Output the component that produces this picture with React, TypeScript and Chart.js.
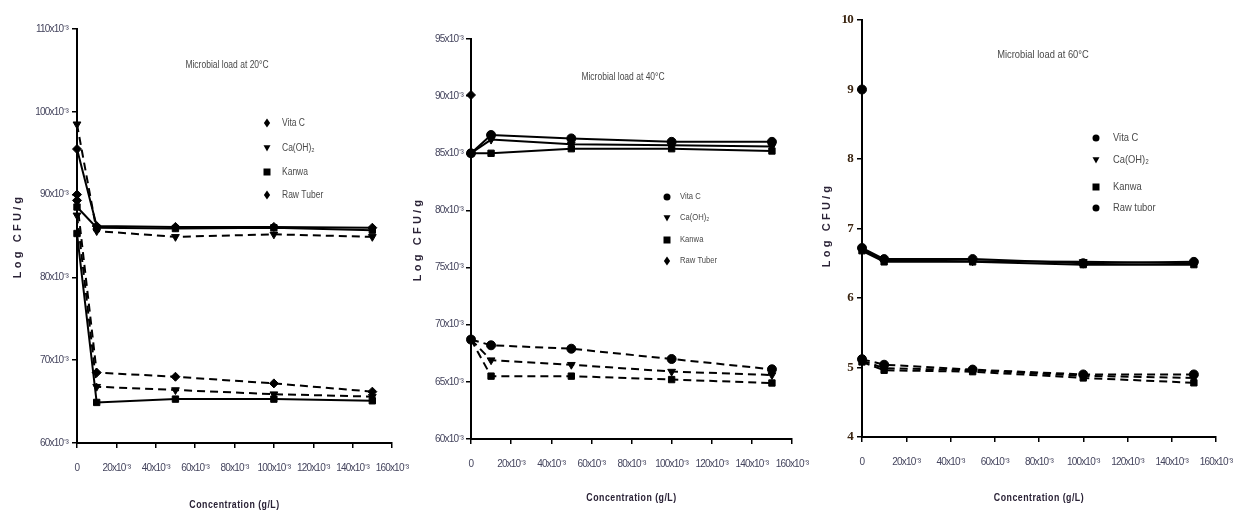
import React, { useEffect, useRef } from 'react';
import { Chart, registerables } from 'chart.js';

Chart.register(...registerables);

// ---------- data ----------
const concentrations = [0, 10, 50, 100, 150]; // x10^-3 g/L
const rawTuberX = [0];

const legendLabels = ['Vita C', 'Ca(OH)₂', 'Kanwa', 'Raw Tuber'];
const legendLabels60 = ['Vita C', 'Ca(OH)₂', 'Kanwa', 'Raw tubor'];

// 20 °C (values x10^-3)
const vitaC20Upper = [95.5, 86.2, 86.1, 86.1, 86.0];
const caOH20Upper = [98.5, 85.6, 84.9, 85.2, 84.9];
const kanwa20Upper = [88.5, 86.0, 85.9, 86.0, 85.7];
const vitaC20Lower = [89.3, 68.5, 68.0, 67.2, 66.2];
const caOH20Lower = [87.5, 66.8, 66.4, 65.9, 65.6];
const kanwa20Lower = [85.3, 64.9, 65.3, 65.3, 65.1];
const rawTuber20 = [90.0];

// 40 °C (values x10^-3)
const vitaC40Upper = [85.0, 86.6, 86.3, 86.0, 86.0];
const caOH40Upper = [85.0, 86.2, 85.8, 85.7, 85.6];
const kanwa40Upper = [85.0, 85.0, 85.4, 85.4, 85.2];
const vitaC40Lower = [68.7, 68.2, 67.9, 67.0, 66.1];
const caOH40Lower = [68.7, 66.9, 66.5, 65.9, 65.6];
const kanwa40Lower = [68.7, 65.5, 65.5, 65.2, 64.9];
const rawTuber40 = [90.1];

// 60 °C
const vitaC60Upper = [6.72, 6.56, 6.56, 6.5, 6.52];
const caOH60Upper = [6.7, 6.54, 6.53, 6.52, 6.5];
const kanwa60Upper = [6.68, 6.52, 6.52, 6.48, 6.48];
const vitaC60Lower = [5.12, 5.04, 4.97, 4.9, 4.9];
const caOH60Lower = [5.1, 4.99, 4.96, 4.88, 4.85];
const kanwa60Lower = [5.08, 4.96, 4.94, 4.85, 4.78];
const rawTuber60 = [9.0];

// ---------- styling ----------
const SANS = "'Liberation Sans', Arial, sans-serif";
const TICK_COLOR = '#45455e';
const AXIS_TITLE_COLOR = '#2a2236';
const TEXT_COLOR = '#4a4a4a';

type Marker = 'diamond' | 'triDown' | 'square' | 'circle';

const chartStyle = (m: Marker) =>
  m === 'diamond' ? 'rectRot' : m === 'triDown' ? 'triangle' : m === 'square' ? 'rect' : 'circle';

function drawMarker(ctx: CanvasRenderingContext2D, m: Marker, x: number, y: number, r: number) {
  ctx.beginPath();
  if (m === 'diamond') {
    ctx.moveTo(x, y - r * 1.3);
    ctx.lineTo(x + r * 0.9, y);
    ctx.lineTo(x, y + r * 1.3);
    ctx.lineTo(x - r * 0.9, y);
    ctx.closePath();
  } else if (m === 'triDown') {
    ctx.moveTo(x - r, y - r * 0.8);
    ctx.lineTo(x + r, y - r * 0.8);
    ctx.lineTo(x, y + r);
    ctx.closePath();
  } else if (m === 'square') {
    ctx.rect(x - r, y - r, 2 * r, 2 * r);
  } else {
    ctx.arc(x, y, r, 0, Math.PI * 2);
  }
  ctx.fillStyle = '#000';
  ctx.fill();
}

// draw horizontally-condensed text (emulates a narrow face)
function drawNarrow(
  ctx: CanvasRenderingContext2D,
  text: string,
  x: number,
  y: number,
  font: string,
  color: string,
  align: CanvasTextAlign,
  sx: number,
  spacing: number,
  rotate = false
) {
  ctx.save();
  (ctx as any).letterSpacing = `${spacing}px`;
  ctx.font = font;
  ctx.fillStyle = color;
  ctx.textAlign = align;
  ctx.textBaseline = 'middle';
  ctx.translate(x, y);
  if (rotate) ctx.rotate(-Math.PI / 2);
  ctx.scale(sx, 1);
  ctx.fillText(text, 0, 0);
  ctx.restore();
}

type Series = { values: number[]; xs: number[]; marker: Marker; dashed: boolean; label: string };

type Panel = {
  left: number;
  width: number;
  area: { left: number; right: number; top: number; bottom: number };
  yMin: number;
  yMax: number;
  yStep: number;
  sci: boolean;
  title: string;
  titleFont: number;
  titlePos: [number, number];
  legend: { markerX: number; textX: number; ys: number[]; font: number; labels: string[]; markers: Marker[] };
  yTitlePos: [number, number];
  xTitleY: number;
  yTickPad: number;
  series: Series[];
};

const m20: Marker[] = ['diamond', 'triDown', 'square', 'diamond'];
const m40: Marker[] = ['circle', 'triDown', 'square', 'diamond'];
const m60: Marker[] = ['circle', 'triDown', 'square', 'circle'];

const mk = (values: number[], marker: Marker, dashed: boolean, label: string, xs = concentrations): Series => ({
  values,
  xs,
  marker,
  dashed,
  label,
});

const panels: Panel[] = [
  {
    left: 0,
    width: 420,
    area: { left: 77, right: 392, top: 29, bottom: 443 },
    yMin: 60,
    yMax: 110,
    yStep: 10,
    sci: true,
    title: 'Microbial load at 20°C',
    titleFont: 10,
    titlePos: [227, 65],
    legend: { markerX: 267, textX: 282, ys: [123, 148, 172, 195], font: 10, labels: legendLabels, markers: m20 },
    yTitlePos: [18, 236],
    xTitleY: 505,
    yTickPad: 4,
    series: [
      mk(vitaC20Upper, 'diamond', false, 'Vita C'),
      mk(caOH20Upper, 'triDown', true, 'Ca(OH)2'),
      mk(kanwa20Upper, 'square', false, 'Kanwa'),
      mk(vitaC20Lower, 'diamond', true, 'Vita C'),
      mk(caOH20Lower, 'triDown', true, 'Ca(OH)2'),
      mk(kanwa20Lower, 'square', false, 'Kanwa'),
      mk(rawTuber20, 'diamond', false, 'Raw Tuber', rawTuberX),
    ],
  },
  {
    left: 410,
    width: 410,
    area: { left: 471, right: 792, top: 39, bottom: 439 },
    yMin: 60,
    yMax: 95,
    yStep: 5,
    sci: true,
    title: 'Microbial load at 40°C',
    titleFont: 10,
    titlePos: [623, 77],
    legend: { markerX: 667, textX: 680, ys: [197, 218, 240, 261], font: 9, labels: legendLabels, markers: m40 },
    yTitlePos: [418, 239],
    xTitleY: 498,
    yTickPad: 3,
    series: [
      mk(vitaC40Upper, 'circle', false, 'Vita C'),
      mk(caOH40Upper, 'triDown', false, 'Ca(OH)2'),
      mk(kanwa40Upper, 'square', false, 'Kanwa'),
      mk(vitaC40Lower, 'circle', true, 'Vita C'),
      mk(caOH40Lower, 'triDown', true, 'Ca(OH)2'),
      mk(kanwa40Lower, 'square', true, 'Kanwa'),
      mk(rawTuber40, 'diamond', false, 'Raw Tuber', rawTuberX),
    ],
  },
  {
    left: 820,
    width: 418,
    area: { left: 862, right: 1216, top: 20, bottom: 437 },
    yMin: 4,
    yMax: 10,
    yStep: 1,
    sci: false,
    title: 'Microbial load at 60°C',
    titleFont: 11,
    titlePos: [1043, 55],
    legend: { markerX: 1096, textX: 1113, ys: [138, 160, 187, 208], font: 11, labels: legendLabels60, markers: m60 },
    yTitlePos: [827, 225],
    xTitleY: 498,
    yTickPad: 4,
    series: [
      mk(vitaC60Upper, 'circle', false, 'Vita C'),
      mk(caOH60Upper, 'triDown', false, 'Ca(OH)2'),
      mk(kanwa60Upper, 'square', false, 'Kanwa'),
      mk(vitaC60Lower, 'circle', true, 'Vita C'),
      mk(caOH60Lower, 'triDown', true, 'Ca(OH)2'),
      mk(kanwa60Lower, 'square', true, 'Kanwa'),
      mk(rawTuber60, 'circle', false, 'Raw tuber', rawTuberX),
    ],
  },
];

const sciLabel = (v: number) => (v === 0 ? '0' : `${v}x10⁻³`);

function PanelChart({ p }: { p: Panel }) {
  const ref = useRef<HTMLCanvasElement | null>(null);
  useEffect(() => {
    if (!ref.current) return;
    const yWidth = p.area.left - p.left;
    const xHeight = 512 - p.area.bottom;
    const tightText = (chart: any) => {
      (chart.ctx as any).letterSpacing = '-0.8px';
    };
    const overlay = {
      id: 'overlay',
      beforeUpdate: tightText,
      beforeLayout: tightText,
      beforeDraw: tightText,
      afterDraw(chart: any) {
        const ctx: CanvasRenderingContext2D = chart.ctx;
        const ca = chart.chartArea;
        drawNarrow(ctx, p.title, p.titlePos[0] - p.left, p.titlePos[1], `${p.titleFont}px ${SANS}`, TEXT_COLOR, 'center', 0.85, 0);
        const lg = p.legend;
        lg.labels.forEach((lab, i) => {
          drawMarker(ctx, lg.markers[i], lg.markerX - p.left, lg.ys[i], 3.5);
          drawNarrow(ctx, lab, lg.textX - p.left, lg.ys[i], `${lg.font}px ${SANS}`, TEXT_COLOR, 'left', 0.85, 0);
        });
        drawNarrow(
          ctx,
          'Concentration (g/L)',
          (ca.left + ca.right) / 2,
          p.xTitleY,
          `bold 11px ${SANS}`,
          AXIS_TITLE_COLOR,
          'center',
          0.8,
          0.6
        );
        drawNarrow(ctx, 'Log CFU/g', p.yTitlePos[0] - p.left, p.yTitlePos[1], `bold 11px ${SANS}`, AXIS_TITLE_COLOR, 'center', 1, 3.2, true);
      },
    };
    const chart = new Chart(ref.current, {
      type: 'line',
      data: {
        datasets: p.series.map((s) => ({
          label: s.label,
          data: s.values.map((v, i) => ({ x: s.xs[i], y: v })),
          borderColor: '#000',
          backgroundColor: '#000',
          borderWidth: 2,
          borderDash: s.dashed ? [8, 5] : [],
          pointStyle: chartStyle(s.marker) as any,
          pointRotation: s.marker === 'triDown' ? 180 : 0,
          pointRadius: 4.5,
          pointBackgroundColor: '#000',
          pointBorderColor: '#000',
          pointBorderWidth: 1,
          tension: 0,
          fill: false,
          clip: false as any,
        })),
      },
      options: {
        animation: false,
        responsive: false,
        devicePixelRatio: 1,
        layout: { padding: { left: 0, top: p.area.top, right: p.left + p.width - p.area.right, bottom: 0 } },
        plugins: { legend: { display: false }, tooltip: { enabled: false }, title: { display: false } },
        scales: {
          x: {
            type: 'linear',
            min: 0,
            max: 160,
            afterFit: (s: any) => {
              s.height = xHeight;
              s.paddingLeft = 0;
              s.paddingRight = 0;
            },
            ticks: {
              stepSize: 20,
              autoSkip: false,
              maxRotation: 0,
              padding: 14,
              color: TICK_COLOR,
              font: { family: SANS, size: 10 },
              callback: (v: any) => sciLabel(Number(v)),
            },
            grid: { drawOnChartArea: false, drawTicks: true, tickLength: 5, color: '#000', lineWidth: 1.5 },
            border: { color: '#000', width: 2 },
            title: { display: false },
          },
          y: {
            type: 'linear',
            min: p.yMin,
            max: p.yMax,
            afterFit: (s: any) => {
              s.width = yWidth;
              s.paddingTop = 0;
              s.paddingBottom = 0;
            },
            ticks: {
              stepSize: p.yStep,
              autoSkip: false,
              padding: p.yTickPad,
              color: p.sci ? TICK_COLOR : '#3a2410',
              font: p.sci
                ? { family: SANS, size: 10 }
                : { family: "'Liberation Serif', serif", size: 13, weight: 'bold' },
              callback: (v: any) => (p.sci ? sciLabel(Number(v)) : String(v)),
            },
            grid: { drawOnChartArea: false, drawTicks: true, tickLength: 5, color: '#000', lineWidth: 1.5 },
            border: { color: '#000', width: 2 },
            title: { display: false },
          },
        },
      },
      plugins: [overlay],
    });
    return () => chart.destroy();
  }, [p]);
  return (
    <canvas
      ref={ref}
      width={p.width}
      height={512}
      style={{ position: 'absolute', left: p.left, top: 0, width: p.width, height: 512 }}
    />
  );
}

export default function App() {
  return (
    <div style={{ position: 'absolute', left: 0, top: 0, width: 1238, height: 512, background: '#fff', overflow: 'hidden' }}>
      {panels.map((p, i) => (
        <PanelChart key={i} p={p} />
      ))}
    </div>
  );
}
